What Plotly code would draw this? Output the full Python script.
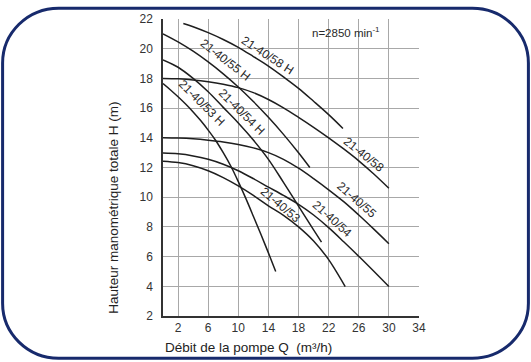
import math
import plotly.graph_objects as go

# ---- data ----
q58h = [2.7, 4, 6, 8, 10, 12, 14, 16, 18, 20, 22, 23.9]
h58h = [21.7, 21.48, 21.08, 20.62, 20.09, 19.47, 18.83, 18.1, 17.33, 16.46, 15.56, 14.63]

q55h = [0, 2, 4, 6, 8, 10, 12, 14, 16, 18, 19.5]
h55h = [21.0, 20.46, 19.83, 19.11, 18.31, 17.42, 16.44, 15.38, 14.23, 12.99, 12.0]

q54h = [0, 2, 4, 6, 8, 10, 12, 14, 16, 18, 20, 21.05]
h54h = [19.25, 18.75, 18.0, 17.1, 16.05, 15.0, 13.85, 12.55, 11.0, 9.4, 7.8, 6.98]

q53h = [0, 1, 2, 3, 4, 5, 6, 7, 8, 9, 10, 11, 12, 13, 14, 14.97]
h53h = [17.65, 17.22, 16.76, 16.27, 15.74, 15.16, 14.52, 13.82, 13.0, 12.1, 11.05, 9.92, 8.72, 7.5, 6.25, 5.0]

q_full = [0, 2, 4, 6, 8, 10, 12, 14, 16, 18, 20, 22, 24, 26, 28, 30]
h58 = [18.0, 17.97, 17.9, 17.78, 17.61, 17.38, 17.04, 16.58, 16.02, 15.38, 14.71, 14.0, 13.25, 12.45, 11.56, 10.6]
h55 = [14.0, 13.98, 13.93, 13.84, 13.72, 13.55, 13.32, 13.0, 12.55, 11.95, 11.25, 10.5, 9.7, 8.8, 7.85, 6.87]
h54 = [12.97, 12.92, 12.78, 12.55, 12.22, 11.78, 11.25, 10.68, 10.12, 9.52, 8.8, 7.95, 7.0, 6.02, 5.01, 3.98]

q53 = [0, 2, 4, 6, 8, 10, 12, 14, 16, 18, 20, 22, 23, 24.2]
h53 = [12.42, 12.33, 12.12, 11.78, 11.32, 10.76, 10.12, 9.42, 8.78, 8.0, 7.05, 5.8, 5.0, 3.98]

x_ticks = [2, 6, 10, 14, 18, 22, 26, 30, 34]
y_ticks = [2, 4, 6, 8, 10, 12, 14, 16, 18, 20, 22]

# text, Q, H, angle, offset (px) away from the curve
labels = [
    ("21-40/58 H", 13.6, 19.4, 33, 3),
    ("21-40/55 H", 8.0, 19.05, 38, 4),
    ("21-40/53 H", 4.6, 16.05, 45, 6),
    ("21-40/54 H", 10.0, 15.5, 45, 5),
    ("21-40/58", 26.5, 12.7, 39, 3),
    ("21-40/55", 25.5, 9.67, 41, 3),
    ("21-40/54", 22.2, 8.35, 42, 3),
    ("21-40/53", 15.3, 9.3, 40, 4),
]

curves = [
    (q58h, h58h), (q55h, h55h), (q54h, h54h), (q53h, h53h),
    (q_full, h58), (q_full, h55), (q_full, h54), (q53, h53),
]

FONT = "Liberation Sans, Arial, sans-serif"

fig = go.Figure()
for q, h in curves:
    fig.add_trace(go.Scatter(x=q, y=h, mode="lines",
                             line=dict(color="#1e1e1e", width=1.5, shape="spline", smoothing=1.0),
                             hoverinfo="skip", showlegend=False))

for txt, xq, yh, ang, off in labels:
    a = math.radians(ang)
    fig.add_annotation(x=xq, y=yh, text=txt, showarrow=False, textangle=ang,
                       xshift=off * math.sin(a), yshift=off * math.cos(a),
                       font=dict(family=FONT, size=12, color="#2a2a2a"))

fig.add_annotation(x=24.3, y=21.12, text="n=2850 min<sup>-1</sup>", showarrow=False,
                   font=dict(family=FONT, size=11.5, color="#2a2a2a"))

# axis titles placed like the reference
fig.add_annotation(xref="paper", yref="paper", x=0.0, y=-0.105, xanchor="left", yanchor="middle",
                   text="Débit de la pompe Q  (m³/h)", showarrow=False,
                   font=dict(family=FONT, size=13.5, color="#222222"))
fig.add_annotation(xref="paper", yref="paper", x=-0.196, y=0.0, xanchor="center", yanchor="bottom",
                   text="Hauteur manométrique totale H (m)", showarrow=False, textangle=-90,
                   font=dict(family=FONT, size=13.5, color="#222222"))

# rounded frame around the whole image (paper coords)
L, R, T, B = 163, 419, 13, 316
W, Hh = R - L, B - T
def px(xp): return (xp - L) / W
def py(yp): return (B - yp) / Hh
x0, x1, y0, y1, r = 2.6, 528.4, 2.0, 359.0, 56
k = 0.5523 * r
path = (f"M {px(x0+r)},{py(y0)} L {px(x1-r)},{py(y0)} "
        f"C {px(x1-r+k)},{py(y0)} {px(x1)},{py(y0+r-k)} {px(x1)},{py(y0+r)} "
        f"L {px(x1)},{py(y1-r)} "
        f"C {px(x1)},{py(y1-r+k)} {px(x1-r+k)},{py(y1)} {px(x1-r)},{py(y1)} "
        f"L {px(x0+r)},{py(y1)} "
        f"C {px(x0+r-k)},{py(y1)} {px(x0)},{py(y1-r+k)} {px(x0)},{py(y1-r)} "
        f"L {px(x0)},{py(y0+r)} "
        f"C {px(x0)},{py(y0+r-k)} {px(x0+r-k)},{py(y0)} {px(x0+r)},{py(y0)} Z")
fig.add_shape(type="path", xref="paper", yref="paper", path=path,
              line=dict(color="#172a6c", width=3))

fig.update_xaxes(range=[0, 34], tickvals=x_ticks, ticktext=[str(v) for v in x_ticks],
                 showgrid=True, gridcolor="#a8a8a8", gridwidth=1.2,
                 showline=True, linecolor="#333333", linewidth=1.5,
                 ticks="", zeroline=False,
                 tickfont=dict(family=FONT, size=12, color="#333333"))
fig.update_yaxes(range=[2, 22], tickvals=y_ticks, ticktext=[str(v) for v in y_ticks],
                 showgrid=True, gridcolor="#a8a8a8", gridwidth=1.2,
                 showline=True, linecolor="#333333", linewidth=1.5,
                 ticks="outside", ticklen=6, tickcolor="rgba(0,0,0,0)", zeroline=False,
                 tickfont=dict(family=FONT, size=12, color="#333333"))

fig.update_layout(width=531, height=362, margin=dict(l=L, r=531 - R, t=T, b=362 - B),
                  plot_bgcolor="white", paper_bgcolor="white", showlegend=False)

pin = ("document.body.style.margin='0';document.body.style.padding='0';"
       "document.body.style.overflow='hidden';"
       "var d=document.getElementById('{plot_id}');"
       "d.style.position='fixed';d.style.left='0px';d.style.top='0px';")
fig.write_html("out.html", post_script=pin, config={"displayModeBar": False})
